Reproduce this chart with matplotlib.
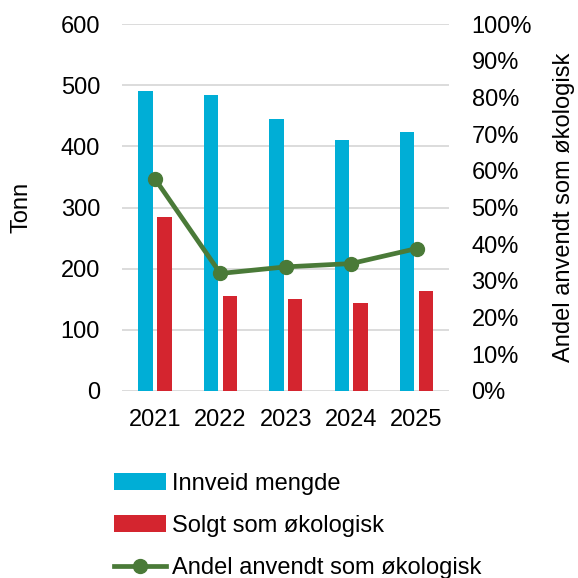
import numpy as np
import matplotlib
matplotlib.use("Agg")
import matplotlib.pyplot as plt
from matplotlib.ticker import PercentFormatter

plt.rcParams['font.family'] = ['Liberation Sans', 'DejaVu Sans']

years = ["2021", "2022", "2023", "2024", "2025"]
innveid = [491, 484, 445, 411, 424]
solgt = [284, 155, 150, 143, 164]
andel = [0.578, 0.320, 0.338, 0.347, 0.388]

blue = "#00AED6"
red = "#D4252F"
green = "#4A7A38"
fs = 17

fig = plt.figure(figsize=(5.78, 5.78), dpi=100)
ax = fig.add_axes([0.2116, 0.324, 0.5657, 0.634])

x = np.arange(len(years))
w = 0.22
ax.bar(x - 0.145, innveid, w, color=blue, label="Innveid mengde", zorder=2)
ax.bar(x + 0.145, solgt, w, color=red, label="Solgt som økologisk", zorder=2)

ax.set_xlim(-0.5, 4.5)
ax.set_ylim(0, 600)
ax.set_yticks(range(0, 601, 100))
ax.set_xticks(x)
ax.set_xticklabels(years)
ax.grid(axis="y", color="#D9D9D9", linewidth=1.3, zorder=0)
ax.set_axisbelow(True)
for s in ax.spines.values():
    s.set_visible(False)
ax.tick_params(axis="both", length=0, labelsize=fs, pad=16)
ax.tick_params(axis="x", pad=13)
ax.set_ylabel("Tonn", fontsize=fs, va="center")
ax.yaxis.set_label_coords(-0.307, 0.5)

ax2 = ax.twinx()
ax2.plot(x, andel, color=green, linewidth=3.4, marker="o", markersize=10,
         label="Andel anvendt som økologisk", zorder=3)
ax2.set_ylim(0, 1)
ax2.set_yticks(np.arange(0, 1.01, 0.1))
ax2.yaxis.set_major_formatter(PercentFormatter(1.0, decimals=0))
for s in ax2.spines.values():
    s.set_visible(False)
ax2.tick_params(axis="y", length=0, labelsize=fs, pad=16)
ax2.set_ylabel("Andel anvendt som økologisk", fontsize=fs, va="center")
ax2.yaxis.set_label_coords(1.352, 0.5)

h1, l1 = ax.get_legend_handles_labels()
h2, l2 = ax2.get_legend_handles_labels()
fig.legend(h1 + h2, l1 + l2, loc="upper left", bbox_to_anchor=(0.198, 0.182),
           frameon=False, fontsize=fs, handlelength=2.2, handletextpad=0.25,
           labelspacing=0.85, borderaxespad=0, borderpad=0)

fig.savefig("out.png", dpi=100)
